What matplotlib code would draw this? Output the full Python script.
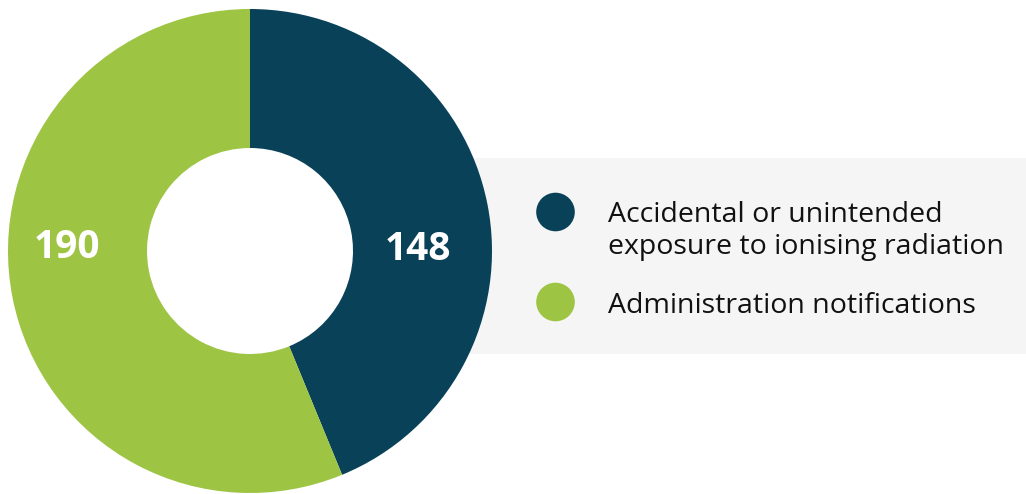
import matplotlib.pyplot as plt
from matplotlib.patches import Circle, Rectangle

# notification counts
categories = ["Accidental or unintended\nexposure to ionising radiation",
              "Administration notifications"]
counts = [148, 190]
colors = ["#084158", "#9dc443"]

plt.rcParams["font.family"] = ["Open Sans", "DejaVu Sans"]

W, H = 1026, 494
fig = plt.figure(figsize=(W / 100, H / 100), dpi=100)
ax = fig.add_axes([0, 0, 1, 1])

# donut geometry in pixel units
cx, cy = 250, H - 251
r_out, r_in = 242, 103

# grey legend panel sitting behind the ring
ax.add_patch(Rectangle((470, H - 354), W - 470, 196, facecolor="#f5f5f5",
                       edgecolor="none", zorder=0))

wedges, _ = ax.pie(counts, colors=colors, startangle=90, counterclock=False,
                   center=(cx, cy), radius=r_out,
                   wedgeprops=dict(width=r_out - r_in, edgecolor="none"))
for w in wedges:
    w.set_zorder(2)

# value labels, placed horizontally on each side of the ring
r_mid = (r_out + r_in) / 2
ax.text(cx + r_mid - 5, cy + 1, str(counts[0]), color="white", fontsize=28,
        fontweight="bold", ha="center", va="center", zorder=3)
ax.text(cx - r_mid - 11, cy + 4, str(counts[1]), color="white", fontsize=28,
        fontweight="bold", ha="center", va="center", zorder=3)

# legend: marker circle plus label, one baseline per text line
legend_y = [212, 302]
first_baseline = [222, 313]
line_step = 32
for label, color, y, base in zip(categories, colors, legend_y, first_baseline):
    ax.add_patch(Circle((555.5, H - y), 19.3, facecolor=color, edgecolor="none",
                        zorder=3))
    for i, line in enumerate(label.split("\n")):
        ax.text(608, H - (base + i * line_step), line, fontsize=20.5,
                color="#111111", ha="left", va="baseline", zorder=3)

ax.set_xlim(0, W)
ax.set_ylim(0, H)
ax.set_aspect("equal")
ax.axis("off")

fig.savefig("out.png", dpi=100, facecolor="white")
